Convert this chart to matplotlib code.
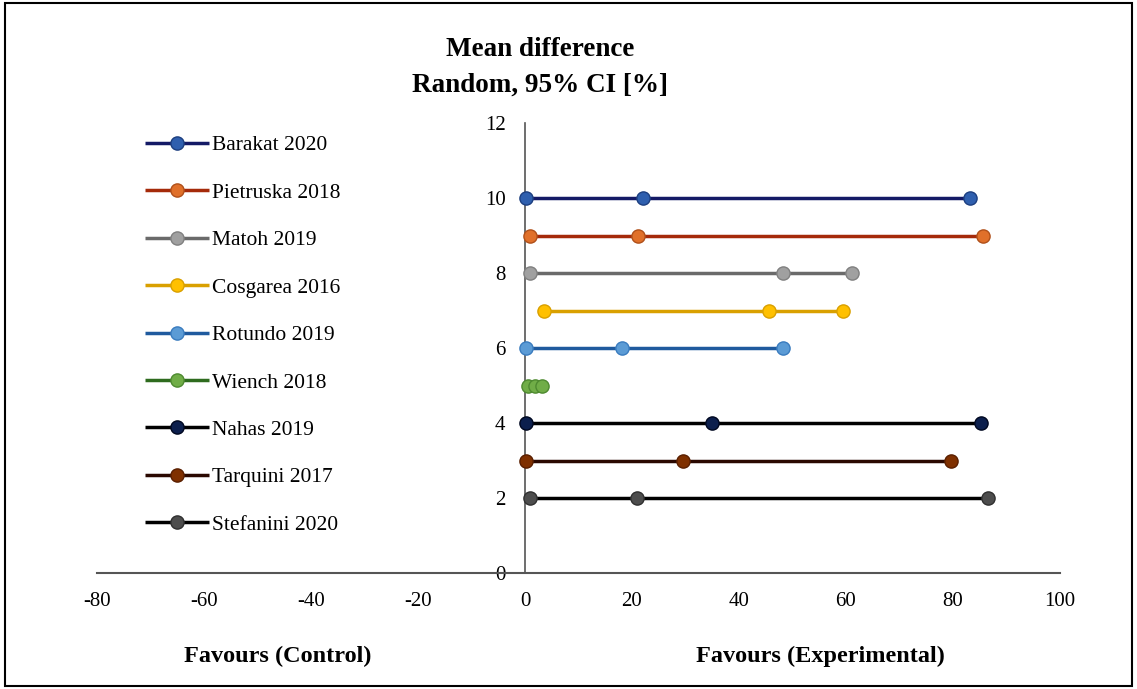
import matplotlib
matplotlib.use("Agg")
import matplotlib.pyplot as plt
from matplotlib.patches import Rectangle

plt.rcParams['font.family'] = ['Liberation Serif', 'DejaVu Serif']
plt.rcParams['axes.unicode_minus'] = False

studies = ["Barakat 2020", "Pietruska 2018", "Matoh 2019", "Cosgarea 2016",
           "Rotundo 2019", "Wiench 2018", "Nahas 2019", "Tarquini 2017",
           "Stefanini 2020"]
rows = [10, 9, 8, 7, 6, 5, 4, 3, 2]
lower = [0.2, 0.9, 0.9, 3.6, 0.2, 0.5, 0.2, 0.2, 0.9]
mean = [22.1, 21.1, 48.2, 45.6, 18.1, 1.8, 35.0, 29.5, 20.9]
upper = [83.2, 85.6, 61.1, 59.4, 48.2, 3.2, 85.2, 79.6, 86.5]

line_colors = ["#141a66", "#a52a0a", "#6a6a6a", "#d9a000", "#1f5a9e",
               "#2e6b1e", "#000000", "#2a0800", "#000000"]
marker_colors = ["#2f5fae", "#e0702a", "#a0a0a0", "#ffc000", "#5b9bd5",
                 "#70ad47", "#0c1f4d", "#7f3000", "#4d4d4d"]
marker_edges = ["#1d3f80", "#b0501a", "#808080", "#d9a000", "#3a7cbf",
                "#4e8a30", "#000820", "#5a1f00", "#303030"]

fig = plt.figure(figsize=(11.37, 6.89), dpi=100)
ax = fig.add_axes([97 / 1137, 1 - 573 / 689, (1060 - 97) / 1137, (573 - 123) / 689])

for i in range(len(studies)):
    ax.plot([lower[i], mean[i], upper[i]], [rows[i]] * 3, color=line_colors[i],
            lw=2.5, marker='o', markersize=9.5, markerfacecolor=marker_colors[i],
            markeredgecolor=marker_edges[i], markeredgewidth=1.0,
            label=studies[i], solid_capstyle='butt', zorder=3)

ax.set_xlim(-80, 100)
ax.set_ylim(0, 12)
ax.set_xticks(range(-80, 101, 20))
ax.set_yticks(range(0, 13, 2))
ax.spines['left'].set_position(('data', 0))
ax.spines['top'].set_visible(False)
ax.spines['right'].set_visible(False)
ax.spines['bottom'].set_color('#555555')
ax.spines['left'].set_color('#555555')
ax.spines['bottom'].set_linewidth(1.5)
ax.spines['left'].set_linewidth(1.2)
ax.tick_params(axis='x', length=0, pad=14, labelsize=15)
ax.tick_params(axis='y', length=0, pad=14, labelsize=15)

leg = fig.legend(loc='upper left', bbox_to_anchor=(0.1196, 0.816), frameon=False,
                 fontsize=15.5, handlelength=3.0, handletextpad=0.15,
                 labelspacing=1.27, borderaxespad=0)

fig.text(540 / 1137, 1 - 50 / 689, "Mean difference", ha='center', va='center',
         fontsize=19.5, fontweight='bold')
fig.text(540 / 1137, 1 - 85 / 689, "Random, 95% CI [%]", ha='center', va='center',
         fontsize=19.5, fontweight='bold')
fig.text(278 / 1137, 1 - 656 / 689, "Favours (Control)", ha='center', va='center',
         fontsize=17.5, fontweight='bold')
fig.text(820 / 1137, 1 - 656 / 689, "Favours (Experimental)", ha='center', va='center',
         fontsize=17.5, fontweight='bold')

fig.patches.append(Rectangle((0.004, 0.004), 0.992, 0.992, transform=fig.transFigure,
                             fill=False, edgecolor='black', lw=1.5))

fig.savefig("out.png", dpi=100)
